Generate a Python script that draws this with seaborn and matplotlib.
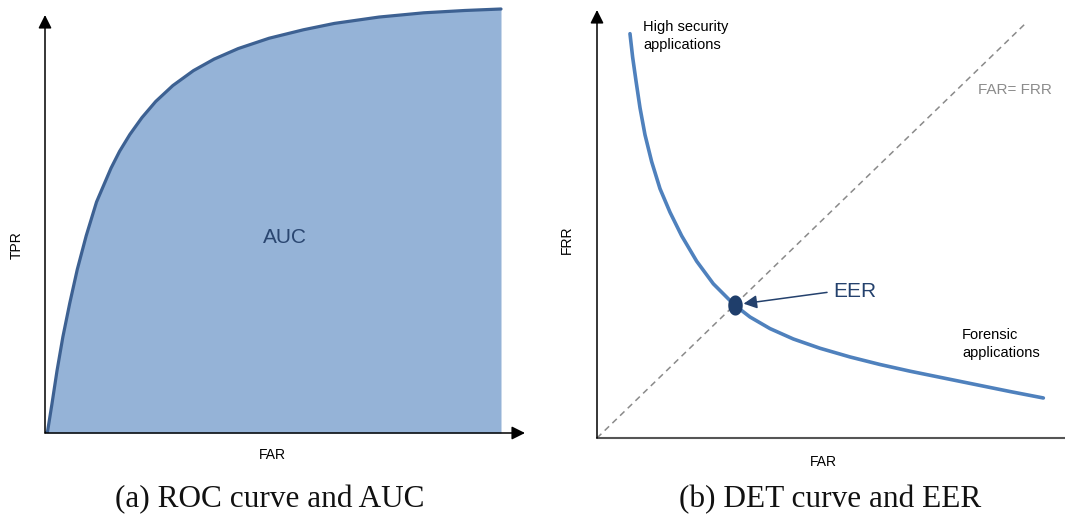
import numpy as np
import pandas as pd
import matplotlib
matplotlib.use("Agg")
import matplotlib.pyplot as plt
from matplotlib.path import Path
import seaborn as sns

# ROC curve (FAR normalised to the end of the shaded area, TPR to its top)
roc_far = [0.0, 0.0053, 0.0151, 0.0264, 0.0392, 0.0543, 0.0708, 0.0904, 0.1130,
           0.1447, 0.1635, 0.1861, 0.2125, 0.2427, 0.2803, 0.3256, 0.3708,
           0.4235, 0.4913, 0.5667, 0.6345, 0.7325, 0.8304, 0.9209, 1.0]
roc_tpr = [0.0, 0.0016, 0.0676, 0.1472, 0.2267, 0.3063, 0.3858, 0.4654, 0.5449,
           0.6245, 0.6643, 0.7041, 0.7437, 0.7818, 0.8194, 0.8547, 0.8818,
           0.9066, 0.9310, 0.9510, 0.9660, 0.9810, 0.9910, 0.9965, 1.0]

# DET curve (FAR vs FRR)
det_far = [0.0767, 0.0829, 0.0907, 0.1000, 0.1116, 0.1271, 0.1465, 0.1698,
           0.1969, 0.2318, 0.2705, 0.3194, 0.3558, 0.4023, 0.4566, 0.5186,
           0.5884, 0.6581, 0.7279, 0.8054, 0.8829, 0.9605, 1.0380]
det_frr = [0.9719, 0.9152, 0.8584, 0.7937, 0.7289, 0.6642, 0.5993, 0.5426,
           0.4860, 0.4249, 0.3707, 0.3200, 0.2909, 0.2630, 0.2380, 0.2157,
           0.1948, 0.1767, 0.1606, 0.1443, 0.1280, 0.1117, 0.0962]

# equal error rate line FAR = FRR and the crossing point
diag = [0.0, 1.0]
eer_far, eer_frr = 0.32, 0.32

sns.set_theme(style="white")
plt.rcParams["font.family"] = ["Liberation Sans", "DejaVu Sans"]

W, H = 1065, 529
fig = plt.figure(figsize=(W / 100, H / 100), dpi=100)
fig.patch.set_facecolor("white")


def fx(px):
    return px / W


def fy(py):
    return 1 - py / H


def axis_arrow(ax, end, color="black", head=True, lw=1.1):
    style = "-|>,head_length=0.8,head_width=0.4" if head else "-"
    ax.annotate("", xy=end, xytext=(0, 0), xycoords="axes fraction",
                textcoords="axes fraction",
                arrowprops=dict(arrowstyle=style, color=color, lw=lw,
                                shrinkA=0, shrinkB=0, mutation_scale=10),
                annotation_clip=False)


# ---------------- (a) ROC curve and AUC ----------------
axa = fig.add_axes([fx(45), fy(433), 482 / W, 428 / H])
axa.set_xlim(0, 482 / 456)
axa.set_ylim(0, 428 / 424)
axa.axis("off")

roc = pd.DataFrame({"FAR": roc_far, "TPR": roc_tpr})
axa.fill_between(roc["FAR"], 0, roc["TPR"], color="#95b3d7", lw=0, zorder=1)
sns.lineplot(data=roc, x="FAR", y="TPR", ax=axa, sort=False, estimator=None,
             color="#3d6192", lw=2.3, zorder=3)
axis_arrow(axa, (480 / 482, 0))
axis_arrow(axa, (0, 418 / 428))

fig.text(fx(285), fy(237), "AUC", ha="center", va="center", fontsize=15,
         color="#2a4670")
fig.text(fx(17), fy(245), "TPR", ha="center", va="center", fontsize=10,
         rotation=90, color="black")
fig.text(fx(272), fy(455), "FAR", ha="center", va="center", fontsize=10,
         color="black")
fig.text(fx(270), fy(500), "(a) ROC curve and AUC", ha="center", va="center",
         fontsize=22.5, family=["Liberation Serif", "DejaVu Serif"],
         color="#111111")

# ---------------- (b) DET curve and EER ----------------
axb = fig.add_axes([fx(597), fy(438), 468 / W, 433 / H])
axb.set_xlim(0, 468 / 430)
axb.set_ylim(0, 433 / 416)
axb.axis("off")

sns.lineplot(x=diag, y=diag, ax=axb, color="#8a8a8a", lw=1.1,
             linestyle=(0, (4, 3)), zorder=2)
det = pd.DataFrame({"FAR": det_far, "FRR": det_frr})
sns.lineplot(data=det, x="FAR", y="FRR", ax=axb, sort=False, estimator=None,
             color="#4f81bd", lw=2.6, zorder=3)

axis_arrow(axb, (1.0, 0), color="#555555", head=False, lw=1.5)
axis_arrow(axb, (0, 428 / 433))

theta = np.linspace(0, 2 * np.pi, 60)
ellipse = Path(np.column_stack([0.72 * np.cos(theta), np.sin(theta)]))
sns.scatterplot(x=[eer_far], y=[eer_frr], ax=axb, marker=ellipse, s=210,
                color="#1f3e6b", linewidth=0, zorder=5)

axb.annotate("EER", xy=(eer_far, eer_frr), xytext=(0.549, 0.352),
             xycoords="data", textcoords="data", ha="left", va="center",
             fontsize=15, color="#24416d",
             arrowprops=dict(arrowstyle="-|>,head_length=0.8,head_width=0.4",
                             color="#24416d", lw=1.1, shrinkA=2, shrinkB=6.5,
                             mutation_scale=10, relpos=(0, 0.5)))

fig.text(fx(643), fy(20), "High security\napplications", ha="left", va="top",
         fontsize=10.5, color="black", linespacing=1.35)
fig.text(fx(978), fy(90), "FAR= FRR", ha="left", va="center", fontsize=11,
         color="#8c8c8c")
fig.text(fx(962), fy(328), "Forensic\napplications", ha="left", va="top",
         fontsize=10.5, color="black", linespacing=1.35)
fig.text(fx(567), fy(240), "FRR", ha="center", va="center", fontsize=10,
         rotation=90, color="black")
fig.text(fx(823), fy(462), "FAR", ha="center", va="center", fontsize=10,
         color="black")
fig.text(fx(830), fy(500), "(b) DET curve and EER", ha="center", va="center",
         fontsize=22.5, family=["Liberation Serif", "DejaVu Serif"],
         color="#111111")

fig.savefig("out.png", dpi=100, facecolor="white")
